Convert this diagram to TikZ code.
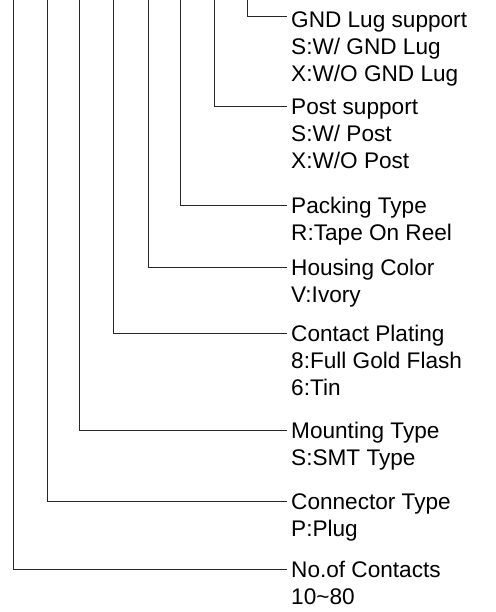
\documentclass[tikz,border=0pt]{standalone}
\usepackage{fontspec}
\setmainfont{Liberation Sans}
\begin{document}
\begin{tikzpicture}[x=1pt,y=-1pt,
  lbl/.style={anchor=west,inner xsep=4pt,inner ysep=0pt,text height=16.2pt,text depth=0pt,
    font=\fontsize{22.6}{27}\selectfont},
  conn/.style={draw=black!85,line width=0.9pt}]
\useasboundingbox (0,0) rectangle (495,612);
% labels
\node[lbl] (gnd) at (287,19) {GND Lug support};
\node[lbl] (gnda) at (287,46) {S:W/ GND Lug};
\node[lbl] (gndb) at (287,73) {X:W/O GND Lug};
\node[lbl] (post) at (287,106) {Post support};
\node[lbl] (posta) at (287,133) {S:W/ Post};
\node[lbl] (postb) at (287,160) {X:W/O Post};
\node[lbl] (pack) at (287,205) {Packing Type};
\node[lbl] (packa) at (287,232) {R:Tape On Reel};
\node[lbl] (hous) at (287,267) {Housing Color};
\node[lbl] (housa) at (287,294) {V:Ivory};
\node[lbl] (plat) at (287,333) {Contact Plating};
\node[lbl] (plata) at (287,360) {8:Full Gold Flash};
\node[lbl] (platb) at (287,387) {6:Tin};
\node[lbl] (mount) at (287,430) {Mounting Type};
\node[lbl] (mounta) at (287,457) {S:SMT Type};
\node[lbl] (ctype) at (287,501) {Connector Type};
\node[lbl] (ctypea) at (287,528) {P:Plug};
\node[lbl] (noc) at (287,569) {No.of Contacts};
\node[lbl] (noca) at (287,596) {10\textasciitilde 80};
% top ends of connectors
\coordinate (t1) at (13,0);
\coordinate (t2) at (47,0);
\coordinate (t3) at (79.5,0);
\coordinate (t4) at (113.5,0);
\coordinate (t5) at (148,0);
\coordinate (t6) at (180,0);
\coordinate (t7) at (214.5,0);
\coordinate (t8) at (247,0);
% connectors
\draw[conn] (t1) |- (noc.west);
\draw[conn] (t2) |- (ctype.west);
\draw[conn] (t3) |- (mount.west);
\draw[conn] (t4) |- (plat.west);
\draw[conn] (t5) |- (hous.west);
\draw[conn] (t6) |- (pack.west);
\draw[conn] (t7) |- (post.west);
\draw[conn] (t8) |- ([yshift=3pt]gnd.west);
\end{tikzpicture}
\end{document}
